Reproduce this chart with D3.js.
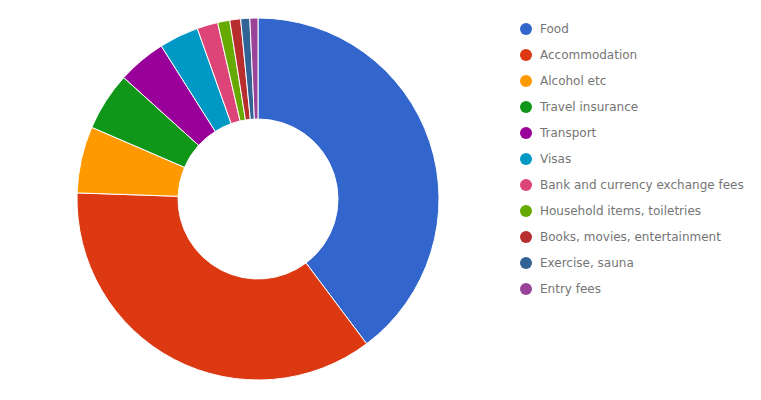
<!DOCTYPE html>
<html>
<head>
<meta charset="utf-8">
<script src="https://cdn.jsdelivr.net/npm/d3@7"></script>
<style>
  body { margin: 0; background: #fff; }
  svg { display: block; }
</style>
</head>
<body>
<div id="chart"></div>
<script>
// Kategorien, Anteile (%) und Farben
const categories = ["Food", "Accommodation", "Alcohol etc", "Travel insurance", "Transport", "Visas",
  "Bank and currency exchange fees", "Household items, toiletries", "Books, movies, entertainment",
  "Exercise, sauna", "Entry fees"];
const values = [39.75, 35.78, 5.94, 5.22, 4.33, 3.53, 1.86, 1.08, 0.97, 0.81, 0.72];
const colors = ["#3366cc", "#dc3912", "#ff9900", "#109618", "#990099", "#0099c6",
  "#dd4477", "#66aa00", "#b82e2e", "#316395", "#994499"];

const W = 761, H = 400;
const cx = 258, cy = 199, R = 181, r0 = 80;

const data = categories.map((name, i) => ({ name, val: values[i] }));
const svg = d3.select("#chart").append("svg").attr("width", W).attr("height", H);

const pie = d3.pie().value(d => d.val).sort(null);
const arc = d3.arc().innerRadius(r0).outerRadius(R);
const color = d3.scaleOrdinal().domain(categories).range(colors);

svg.append("g").attr("transform", `translate(${cx},${cy})`)
  .selectAll("path").data(pie(data)).join("path")
  .attr("d", arc)
  .attr("fill", d => color(d.data.name))
  .attr("stroke", "#fff").attr("stroke-width", 1);

// Legende
const y = d3.scaleBand().domain(categories).range([16, 16 + 26 * categories.length]);
const lg = svg.append("g").selectAll("g").data(categories).join("g")
  .attr("transform", d => `translate(526,${y(d) + y.bandwidth() / 2})`);
lg.append("circle").attr("r", 6).attr("fill", d => color(d));
lg.append("text").attr("x", 14).attr("dy", "0.35em")
  .attr("font-family", "DejaVu Sans, Verdana, sans-serif").attr("font-size", 12)
  .attr("fill", "#757575").text(d => d);
</script>
</body>
</html>
